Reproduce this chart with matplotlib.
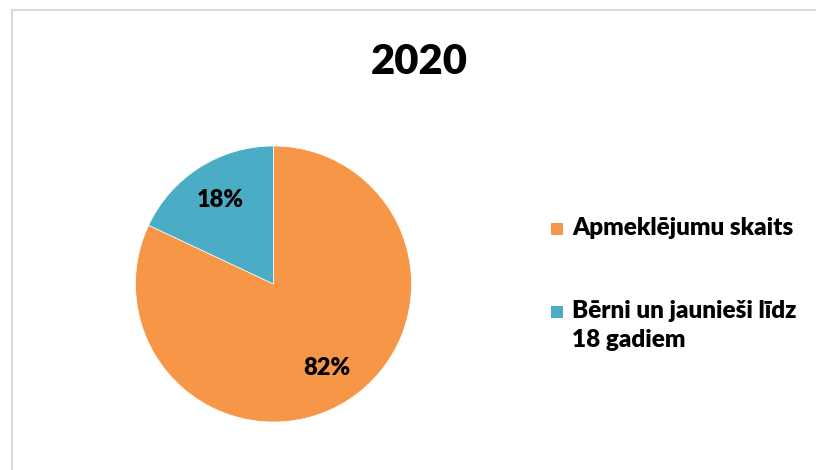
import matplotlib.pyplot as plt
from matplotlib.patches import Rectangle

labels = ['Apmeklējumu skaits', 'Bērni un jaunieši līdz\n18 gadiem']
values = [82, 18]
colors = ['#F79646', '#4BACC6']
title = '2020'

plt.rcParams['font.family'] = ['Lato', 'DejaVu Sans']

fig = plt.figure(figsize=(8.16, 4.70), dpi=100)

# chart area border (cut off at right and bottom like the original)
fig.patches.append(Rectangle((12 / 816, -0.2), 1.2, (470 - 10) / 470 + 0.2,
                             transform=fig.transFigure, fill=False,
                             edgecolor='#d9d9d9', linewidth=1.5))

ax = fig.add_axes([(273.5 - 138) / 816, (470 - 284 - 138) / 470, 276 / 816, 276 / 470])
wedges, texts, autotexts = ax.pie(
    values, colors=colors, startangle=90, counterclock=False,
    autopct='%1.0f%%', pctdistance=0.72,
    wedgeprops=dict(edgecolor='white', linewidth=0.5),
    textprops=dict(fontsize=17, fontweight='heavy', color='black'))
ax.set_xlim(-1, 1)
ax.set_ylim(-1, 1)
ax.set_aspect('equal')

fig.text(419 / 816, 1 - 62 / 470, title, ha='center', va='center',
         fontsize=30, fontweight='heavy')

# legend
ys = [229, 312]
for lab, col, y in zip(labels, colors, ys):
    fig.patches.append(Rectangle((551 / 816, 1 - (y + 6) / 470), 12 / 816, 12 / 470,
                                 transform=fig.transFigure, facecolor=col,
                                 edgecolor='none'))
    fig.text(572 / 816, 1 - (y - 12) / 470, lab, ha='left', va='top',
             fontsize=17.5, fontweight='heavy', linespacing=1.4)

fig.savefig('out.png', dpi=100)
